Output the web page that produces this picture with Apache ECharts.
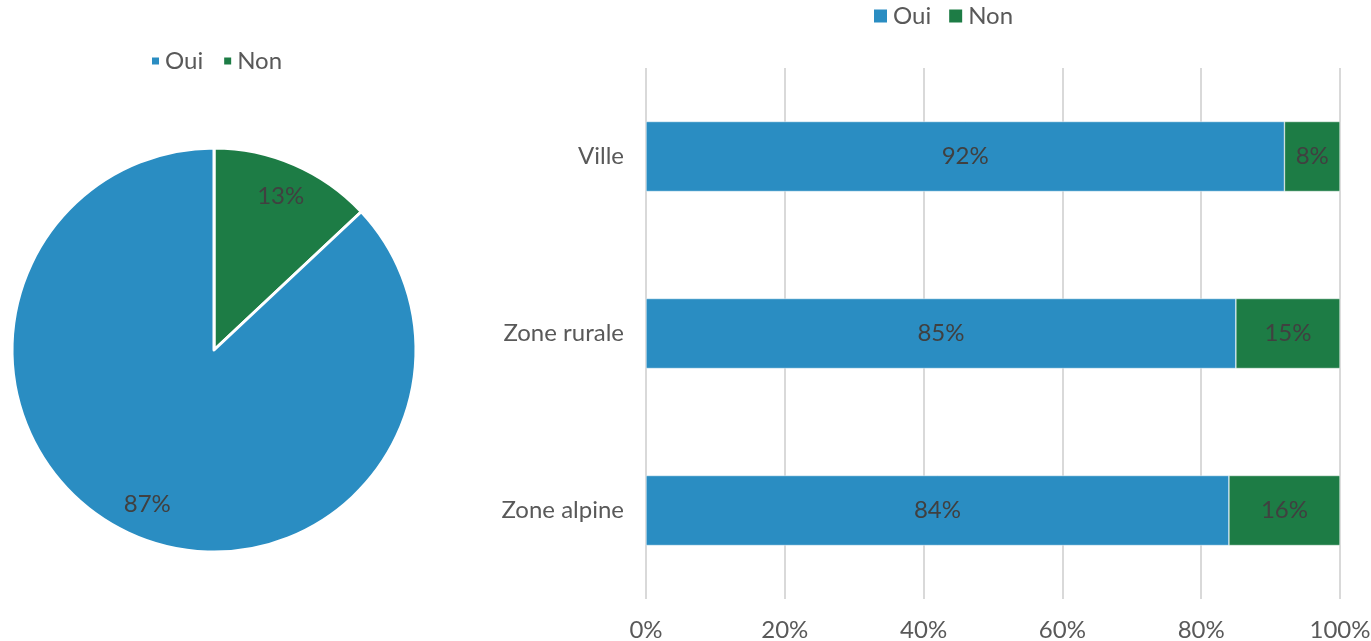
<!DOCTYPE html>
<html>
<head>
<meta charset="utf-8">
<script src="https://cdn.jsdelivr.net/npm/echarts@6/dist/echarts.min.js"></script>
<style>
  html, body { margin: 0; padding: 0; background: #fff; }
  #chart { width: 1371px; height: 641px; }
</style>
</head>
<body>
<div id="chart"></div>
<script>
// données
const answers = ['Oui', 'Non']
const pieValues = { Oui: 87, Non: 13 }
const zones = ['Ville', 'Zone rurale', 'Zone alpine']
const ouiValues = [92, 85, 84]
const nonValues = [8, 15, 16]
const xTicks = [0, 20, 40, 60, 80, 100]

const BLUE = '#2a8dc2'
const GREEN = '#1d7c45'
const FONT = 'Lato'
const FS = 24

const chart = echarts.init(document.getElementById('chart'))

// Non d'abord pour que la part verte parte du haut
const pieData = ['Non', 'Oui'].map(n => ({
  name: n,
  value: pieValues[n],
  itemStyle: { color: n === 'Oui' ? BLUE : GREEN }
}))

const option = {
  animation: false,
  textStyle: { fontFamily: FONT },
  legend: [
    {
      data: answers,
      left: 150,
      top: 49,
      padding: 0,
      icon: 'rect',
      itemWidth: 9,
      itemHeight: 9,
      itemGap: 19,
      textStyle: { fontSize: FS, color: '#595959', fontFamily: FONT }
    },
    {
      data: answers,
      left: 872,
      top: 4,
      padding: 0,
      icon: 'rect',
      itemWidth: 15,
      itemHeight: 15,
      itemGap: 16,
      textStyle: { fontSize: FS, color: '#595959', fontFamily: FONT }
    }
  ],
  grid: { left: 646, right: 31, top: 68, bottom: 42, outerBoundsMode: 'none' },
  xAxis: {
    type: 'value',
    min: 0,
    max: 100,
    interval: 20,
    axisLine: { show: false },
    axisTick: { show: false },
    splitLine: { lineStyle: { color: '#d9d9d9', width: 2 } },
    axisLabel: {
      color: '#595959',
      fontSize: FS,
      margin: 19,
      formatter: v => (xTicks.includes(v) ? v + '%' : '')
    }
  },
  yAxis: {
    type: 'category',
    data: zones,
    inverse: true,
    axisLine: { show: false },
    axisTick: { show: false },
    axisLabel: { color: '#595959', fontSize: FS, margin: 22 }
  },
  series: [
    {
      type: 'pie',
      center: [214, 350],
      radius: [0, 202],
      startAngle: 90,
      clockwise: true,
      data: pieData,
      itemStyle: { borderColor: '#fff', borderWidth: 3 },
      label: { show: false },
      labelLine: { show: false },
      emphasis: { disabled: true }
    },
    {
      // couche transparente pour placer les étiquettes vers l'extérieur
      type: 'pie',
      center: [214, 350],
      radius: [128, 202],
      startAngle: 90,
      clockwise: true,
      silent: true,
      data: pieData.map(d => ({ name: d.name, value: d.value, itemStyle: { color: 'rgba(0,0,0,0)' } })),
      label: {
        position: 'inside',
        formatter: '{c}%',
        color: '#404040',
        fontSize: FS,
        fontFamily: FONT
      },
      labelLine: { show: false },
      emphasis: { disabled: true }
    },
    {
      name: 'Oui',
      type: 'bar',
      stack: 'total',
      barWidth: 70,
      data: ouiValues,
      itemStyle: { color: BLUE, borderColor: '#fff', borderWidth: 0.5 },
      label: { show: true, position: 'inside', formatter: '{c}%', color: '#404040', fontSize: FS }
    },
    {
      name: 'Non',
      type: 'bar',
      stack: 'total',
      barWidth: 70,
      data: nonValues,
      itemStyle: { color: GREEN, borderColor: '#fff', borderWidth: 0.5 },
      label: { show: true, position: 'inside', formatter: '{c}%', color: '#404040', fontSize: FS }
    }
  ]
}

chart.setOption(option)
window.addEventListener('resize', () => chart.resize())
</script>
</body>
</html>
